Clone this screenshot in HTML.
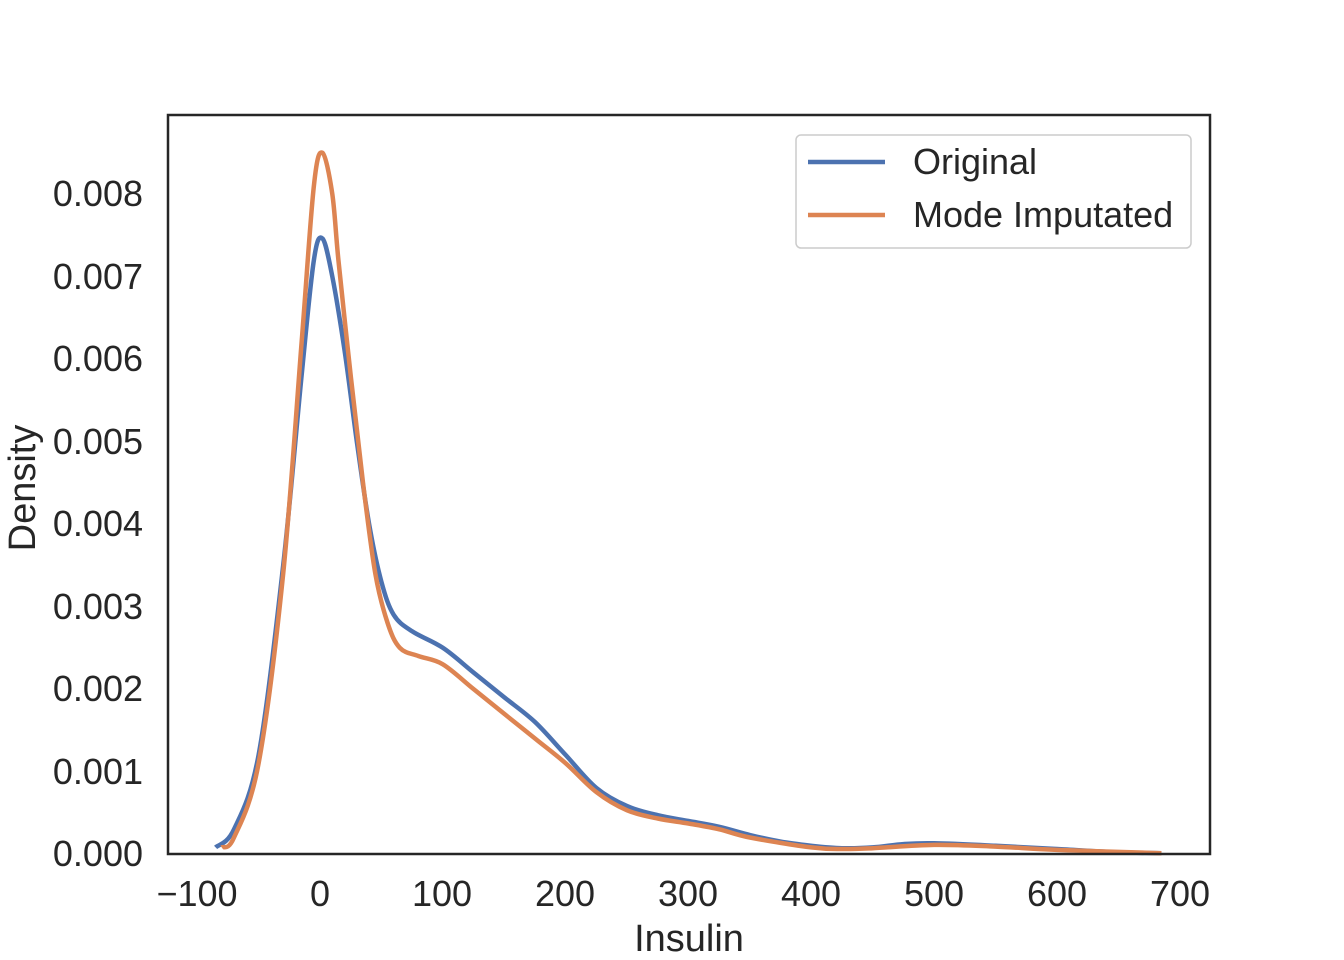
<!DOCTYPE html>
<html><head><meta charset="utf-8"><style>
html,body{margin:0;padding:0;background:#fff;}
svg{display:block;font-family:"Liberation Sans",Arial,sans-serif;}
</style></head><body>
<svg id="s" width="1344" height="960" xmlns="http://www.w3.org/2000/svg">
<rect width="1344" height="960" fill="#fff"/>
<g id="curves"></g>
<rect x="168" y="115" width="1042" height="739" fill="none" stroke="#262626" stroke-width="2.5"/>
<g font-size="36" fill="#262626" text-anchor="end">
<text x="143" y="866">0.000</text>
<text x="143" y="784">0.001</text>
<text x="143" y="701">0.002</text>
<text x="143" y="619">0.003</text>
<text x="143" y="536">0.004</text>
<text x="143" y="454">0.005</text>
<text x="143" y="371">0.006</text>
<text x="143" y="289">0.007</text>
<text x="143" y="206">0.008</text>
</g>
<g font-size="36" fill="#262626" text-anchor="middle">
<text x="197" y="906">−100</text>
<text x="320" y="906">0</text>
<text x="442" y="906">100</text>
<text x="565" y="906">200</text>
<text x="688" y="906">300</text>
<text x="811" y="906">400</text>
<text x="934" y="906">500</text>
<text x="1057" y="906">600</text>
<text x="1180" y="906">700</text>
<text x="689" y="951" font-size="38">Insulin</text>
<text transform="translate(35,488) rotate(-90)" font-size="38">Density</text>
</g>
<rect x="796" y="135" width="395" height="113" rx="5" fill="#fff" fill-opacity="0.8" stroke="#ccc" stroke-width="1.5"/>
<line x1="808" y1="162" x2="885" y2="162" stroke="#4c72b0" stroke-width="4.5"/>
<line x1="808" y1="215" x2="885" y2="215" stroke="#dd8452" stroke-width="4.5"/>
<text x="913" y="174" font-size="36" fill="#262626">Original</text>
<text x="913" y="227" font-size="36" fill="#262626">Mode Imputated</text>
</svg>
<script>
var blue=[[-85,0.00008],[-70,0.0003],[-50,0.0012],[-30,0.0035],[-15,0.0058],[-5,0.0072],[2,0.00746],[10,0.0070],[20,0.0061],[30,0.0050],[40,0.0040],[50,0.0033],[60,0.0029],[75,0.0027],[100,0.0025],[125,0.0022],[150,0.0019],[175,0.0016],[200,0.0012],[225,0.0008],[250,0.00058],[275,0.00047],[300,0.0004],[325,0.00033],[350,0.00023],[375,0.00015],[400,0.0001],[425,0.00007],[450,0.00008],[475,0.00012],[500,0.00013],[550,0.0001],[600,0.00006],[650,0.00002],[685,0.00001]];
var orng=[[-80,0.00008],[-70,0.0002],[-50,0.0011],[-30,0.0034],[-15,0.0062],[-5,0.0081],[2,0.0085],[10,0.0080],[15,0.0072],[25,0.0058],[35,0.0045],[45,0.0034],[55,0.0028],[65,0.0025],[80,0.0024],[100,0.0023],[125,0.0020],[150,0.0017],[175,0.0014],[200,0.0011],[225,0.00075],[250,0.00053],[275,0.00043],[300,0.00037],[325,0.0003],[350,0.0002],[400,0.00008],[425,0.00006],[450,0.00007],[500,0.00011],[550,0.00009],[600,0.00005],[685,0.00001]];
function px(p){return [320+p[0]*1.2283,854-p[1]*82500];}
function path(d){var p=d.map(px),s="M"+p[0][0].toFixed(1)+","+p[0][1].toFixed(1);
for(var i=0;i<p.length-1;i++){var p0=p[i-1]||p[i],p1=p[i],p2=p[i+1],p3=p[i+2]||p2;
var c1=[p1[0]+(p2[0]-p0[0])/6,p1[1]+(p2[1]-p0[1])/6],c2=[p2[0]-(p3[0]-p1[0])/6,p2[1]-(p3[1]-p1[1])/6];
s+=" C"+c1[0].toFixed(1)+","+c1[1].toFixed(1)+" "+c2[0].toFixed(1)+","+c2[1].toFixed(1)+" "+p2[0].toFixed(1)+","+p2[1].toFixed(1);}
return s;}
var g=document.getElementById("curves");
g.innerHTML='<path d="'+path(blue)+'" fill="none" stroke="#4c72b0" stroke-width="4.5"/><path d="'+path(orng)+'" fill="none" stroke="#dd8452" stroke-width="4.5"/>';
</script>
</body></html>
